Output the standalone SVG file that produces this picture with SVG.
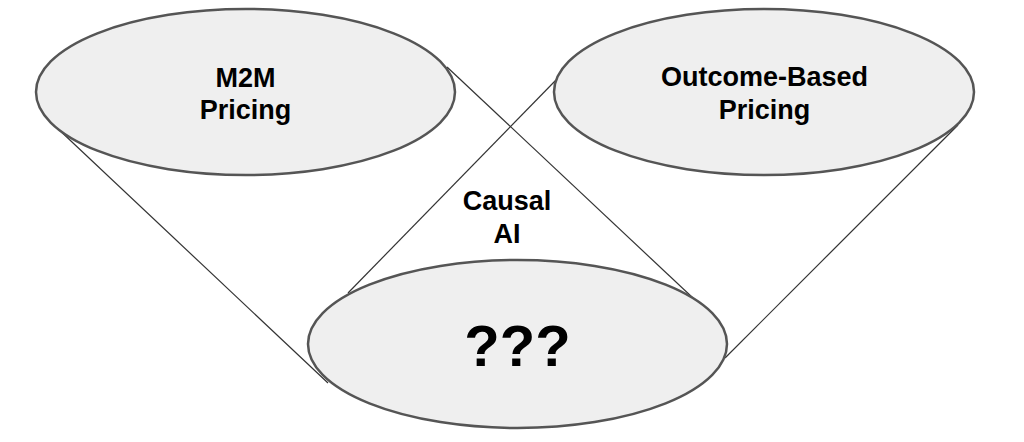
<svg xmlns="http://www.w3.org/2000/svg" width="1024" height="442" viewBox="0 0 1024 442">
  <style>
    .node ellipse { fill: #efefef; stroke: #555555; stroke-width: 2.5; }
    .lbl { font-family: "Liberation Sans", Arial, sans-serif; font-weight: bold; font-size: 27px; fill: #000000; text-anchor: middle; }
    .big { font-size: 58px; }
    .conn line { stroke: #333333; stroke-width: 1.2; }
  </style>
  <rect width="1024" height="442" fill="#ffffff"/>
  <g id="connectors" class="conn">
    <line x1="55" y1="126" x2="328" y2="383"/>
    <line x1="447" y1="67" x2="693" y2="298"/>
    <line x1="556" y1="80" x2="348" y2="293"/>
    <line x1="958" y1="125" x2="725" y2="358"/>
  </g>
  <g id="m2m" class="node">
    <ellipse cx="245.5" cy="92" rx="209.5" ry="83"/>
    <text class="lbl" x="245.5" y="87">M2M</text>
    <text class="lbl" x="245.5" y="119">Pricing</text>
  </g>
  <g id="outcome" class="node">
    <ellipse cx="764" cy="92" rx="210" ry="83"/>
    <text class="lbl" x="764.5" y="86">Outcome-Based</text>
    <text class="lbl" x="764.5" y="119">Pricing</text>
  </g>
  <g id="unknown" class="node">
    <ellipse cx="517.5" cy="344" rx="209.5" ry="84"/>
    <text class="lbl big" x="517.5" y="366">???</text>
  </g>
  <g id="causal-label">
    <text class="lbl" x="507" y="210">Causal</text>
    <text class="lbl" x="507" y="243">AI</text>
  </g>
</svg>
